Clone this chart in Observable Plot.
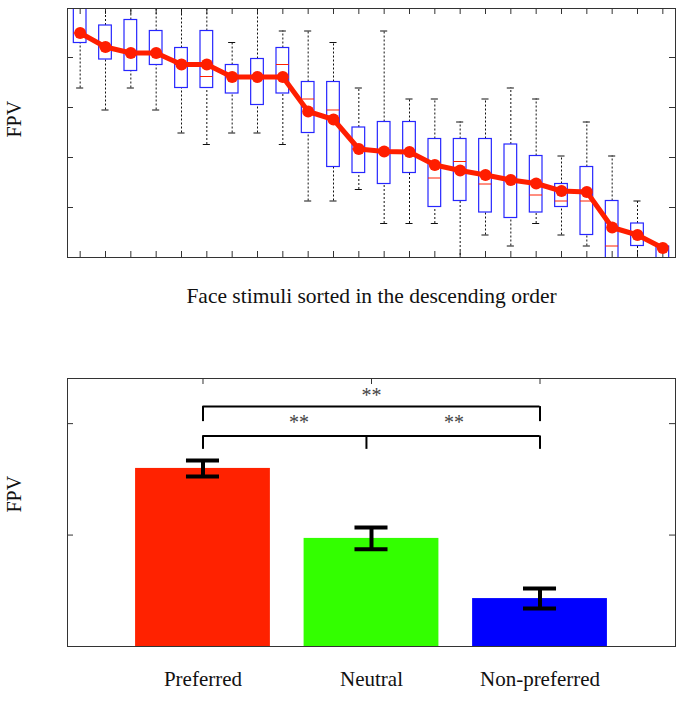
<!DOCTYPE html>
<html><head><meta charset="utf-8">
<script src="https://cdn.jsdelivr.net/npm/d3@7"></script>
<script src="https://cdn.jsdelivr.net/npm/@observablehq/plot@0.6"></script>
<style>
body{margin:0;background:#fff;}
#wrap{position:relative;width:687px;height:702px;overflow:hidden;}
#wrap svg{display:block;}
</style></head><body><div id="wrap"></div>
<script>
// ---------- top panel data (24 face stimuli, sorted) ----------
const faceRank = d3.range(1, 25);
const boxLow    = [3.39, 2.95, 3.39, 2.95, 2.49, 2.26, 2.49, 2.49, 2.26, 1.13, 1.13, 1.36, 0.68, 0.68, 0.68, -0.20, 0.45, 0.23, 0.68, 0.45, 0.23, -0.50, -0.30, -0.60];
const boxQ1     = [4.29, 3.96, 3.73, 3.85, 3.39, 3.39, 3.28, 3.05, 3.28, 2.49, 1.81, 1.69, 1.47, 1.69, 1.01, 1.13, 0.90, 0.79, 0.90, 1.01, 0.45, -0.30, 0.23, -0.30];
const boxMedian = [4.49, 4.21, 4.09, 4.09, 3.86, 3.62, 3.61, 3.61, 3.86, 3.17, 2.95, 2.17, 2.12, 2.11, 1.59, 1.92, 1.47, 1.55, 1.25, 1.13, 1.13, 0.23, 0.45, -0.10];
const boxQ3     = [5.20, 4.64, 4.75, 4.53, 4.19, 4.53, 3.85, 3.97, 4.19, 3.51, 3.51, 2.60, 2.71, 2.71, 2.37, 2.37, 2.37, 2.26, 2.03, 1.47, 1.81, 1.13, 0.68, 0.22];
const boxHigh   = [5.60, 5.30, 5.40, 5.30, 5.20, 5.50, 4.30, 5.20, 4.53, 4.53, 4.30, 3.39, 4.53, 3.17, 3.17, 2.71, 3.17, 3.39, 3.17, 2.03, 2.71, 2.03, 1.13, 0.22];
const faceMean  = [4.49, 4.21, 4.09, 4.09, 3.86, 3.86, 3.61, 3.61, 3.61, 2.92, 2.76, 2.17, 2.12, 2.11, 1.85, 1.74, 1.65, 1.55, 1.48, 1.33, 1.31, 0.60, 0.45, 0.19];
const topYTicks = [1, 2, 3, 4];
const topXLabel = "Face stimuli sorted in the descending order";
const yLabel = "FPV";

// ---------- bottom panel data ----------
const groups = ["Preferred", "Neutral", "Non-preferred"];
const groupIndex = [1, 2, 3];
const groupMean = [1.598, 0.970, 0.430];
const groupErr = [0.072, 0.098, 0.090];
const groupColor = ["#ff2200", "#33ff00", "#0000ff"];
const bottomYTicks = [1, 2];
// significance brackets
const bracketFrom = [1, 1];
const bracketTo = [3, 3];
const bracketLevel = [2.153, 1.889];
const bracketLegEnd = [2.018, 1.769];
const bracketMidTick = [1.97];
const starX = [2.0, 1.57, 2.49];
const starY = [2.252, 2.006, 2.006];
const starText = ["**", "**", "**"];

const serif = "'Liberation Serif', 'Times New Roman', serif";
const red = "#ff1e00";
const boxBlue = "#2626ff";

// ---------- top chart ----------
const boxes = faceRank.map((r, i) => ({
  r, low: boxLow[i], q1: boxQ1[i], med: boxMedian[i], q3: boxQ3[i], high: boxHigh[i], mean: faceMean[i]
}));
const W = 687, H1 = 340, mL = 67, mR = 12, mT1 = 8, mB1 = 83;
const frameW = W - mL - mR, frameH1 = H1 - mT1 - mB1;
const half = 0.25, cap = 0.14;

const topChart = Plot.plot({
  width: W, height: H1,
  marginLeft: mL, marginRight: mR, marginTop: mT1, marginBottom: mB1,
  x: {domain: [0.5, 24.5], axis: null},
  y: {domain: [0, 4.98], axis: null},
  style: {background: "white", overflow: "visible"},
  marks: [
    Plot.tickX(faceRank, {x: d => d, insetTop: frameH1 - 6, stroke: "#333"}),
    Plot.tickX(faceRank, {x: d => d, insetBottom: frameH1 - 6, stroke: "#333"}),
    Plot.tickY(topYTicks, {y: d => d, insetRight: frameW - 6, stroke: "#333"}),
    Plot.tickY(topYTicks, {y: d => d, insetLeft: frameW - 6, stroke: "#333"}),
    Plot.ruleX(boxes, {x: "r", y1: "low", y2: "q1", stroke: "#111", strokeDasharray: "2,2", clip: true}),
    Plot.ruleX(boxes, {x: "r", y1: "q3", y2: "high", stroke: "#111", strokeDasharray: "2,2", clip: true}),
    Plot.ruleY(boxes, {x1: d => d.r - cap, x2: d => d.r + cap, y: "low", stroke: "#111", clip: true}),
    Plot.ruleY(boxes, {x1: d => d.r - cap, x2: d => d.r + cap, y: "high", stroke: "#111", clip: true}),
    Plot.rect(boxes, {x1: d => d.r - half, x2: d => d.r + half, y1: "q1", y2: "q3", fill: "none", stroke: boxBlue, strokeWidth: 1.2, clip: true}),
    Plot.ruleY(boxes, {x1: d => d.r - half, x2: d => d.r + half, y: "med", stroke: red, strokeWidth: 1, clip: true}),
    Plot.line(boxes, {x: "r", y: "mean", stroke: red, strokeWidth: 5, clip: true}),
    Plot.dot(boxes, {x: "r", y: "mean", r: 6, fill: red, stroke: "none", clip: true}),
    Plot.frame({stroke: "#333", strokeWidth: 1}),
    Plot.text([topXLabel], {text: d => d, frameAnchor: "bottom", dy: 45.4, fontSize: 21.5, fontFamily: serif, fill: "#111"}),
    Plot.text([yLabel], {text: d => d, frameAnchor: "left", dx: -52.7, dy: 4.5, rotate: -90, fontSize: 20, fontFamily: serif, fill: "#111"})
  ]
});

// ---------- bottom chart ----------
const bars = groups.map((g, i) => ({g, i: groupIndex[i], mean: groupMean[i], err: groupErr[i], color: groupColor[i]}));
const brackets = bracketLevel.map((lv, k) => ({from: bracketFrom[k], to: bracketTo[k], level: lv, legEnd: bracketLegEnd[k]}));
const legs = brackets.flatMap(b => [{x: b.from, y1: b.legEnd, y2: b.level}, {x: b.to, y1: b.legEnd, y2: b.level}])
  .concat(bracketMidTick.map(x => ({x, y1: bracketLegEnd[1], y2: bracketLevel[1]})));
const stars = starText.map((t, k) => ({t, x: starX[k], y: starY[k]}));

const H2 = 362, mT2 = 38, mB2 = 56;
const frameH2 = H2 - mT2 - mB2;
const barHalf = 0.4, errCap = 0.098;

const bottomChart = Plot.plot({
  width: W, height: H2,
  marginLeft: mL, marginRight: mR, marginTop: mT2, marginBottom: mB2,
  x: {domain: [0.196, 3.804], axis: null},
  y: {domain: [0, 2.405], axis: null},
  color: {type: "identity"},
  style: {background: "white", overflow: "visible"},
  marks: [
    Plot.tickX(groupIndex, {x: d => d, insetTop: frameH2 - 6, stroke: "#333"}),
    Plot.tickX(groupIndex, {x: d => d, insetBottom: frameH2 - 6, stroke: "#333"}),
    Plot.tickY(bottomYTicks, {y: d => d, insetRight: frameW - 6, stroke: "#333"}),
    Plot.tickY(bottomYTicks, {y: d => d, insetLeft: frameW - 6, stroke: "#333"}),
    Plot.rect(bars, {x1: d => d.i - barHalf, x2: d => d.i + barHalf, y1: 0, y2: "mean", fill: "color"}),
    Plot.ruleX(bars, {x: "i", y1: d => d.mean - d.err, y2: d => d.mean + d.err, stroke: "#000", strokeWidth: 4}),
    Plot.ruleY(bars, {x1: d => d.i - errCap, x2: d => d.i + errCap, y: d => d.mean - d.err, stroke: "#000", strokeWidth: 4}),
    Plot.ruleY(bars, {x1: d => d.i - errCap, x2: d => d.i + errCap, y: d => d.mean + d.err, stroke: "#000", strokeWidth: 4}),
    Plot.ruleY(brackets, {x1: "from", x2: "to", y: "level", stroke: "#000", strokeWidth: 2}),
    Plot.ruleX(legs, {x: "x", y1: "y1", y2: "y2", stroke: "#000", strokeWidth: 2}),
    Plot.text(stars, {x: "x", y: "y", text: "t", fontSize: 20, fontFamily: serif, fill: "#444"}),
    Plot.frame({stroke: "#333", strokeWidth: 1}),
    Plot.text(bars, {x: "i", text: "g", frameAnchor: "bottom", dy: 39, fontSize: 21, fontFamily: serif, fill: "#111"}),
    Plot.text([yLabel], {text: d => d, frameAnchor: "left", dx: -52.7, dy: 0, rotate: -90, fontSize: 20, fontFamily: serif, fill: "#111"})
  ]
});

const wrap = document.getElementById("wrap");
wrap.appendChild(topChart);
wrap.appendChild(bottomChart);
</script>
</body></html>
